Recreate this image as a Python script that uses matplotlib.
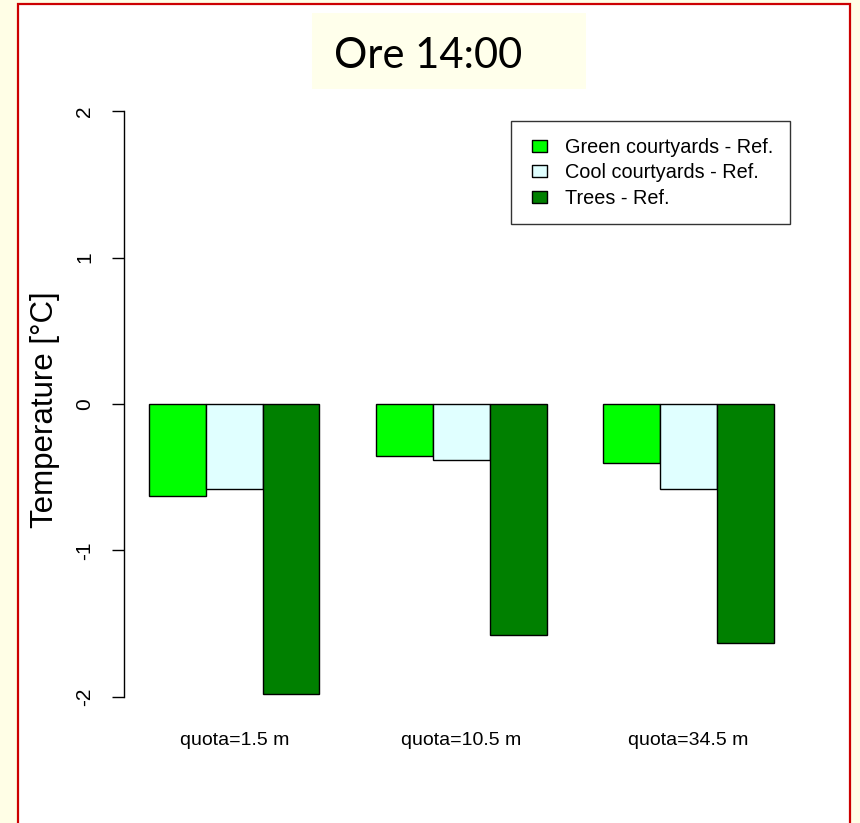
import matplotlib.pyplot as plt
from matplotlib.patches import Rectangle
from matplotlib.lines import Line2D
import numpy as np

plt.rcParams['font.family'] = ['Liberation Sans', 'DejaVu Sans']

groups = ['quota=1.5 m', 'quota=10.5 m', 'quota=34.5 m']
series = ['Green courtyards - Ref.', 'Cool courtyards - Ref.', 'Trees - Ref.']
green_ref = [-0.63, -0.355, -0.40]
cool_ref = [-0.58, -0.38, -0.58]
trees_ref = [-1.98, -1.58, -1.63]
colors = ['#00FF00', '#E0FFFF', '#008000']

W, H = 860, 823
fig = plt.figure(figsize=(W / 100, H / 100), dpi=100)
fig.patch.set_facecolor('#FFFEE6')

# white slide panel with red frame, and the pale title box
fig.add_artist(Rectangle((18 / W, -0.01), (850 - 18) / W, 1 - 4 / H + 0.01,
                         transform=fig.transFigure, facecolor='white',
                         edgecolor='#CC0000', linewidth=1.6, zorder=0))
fig.add_artist(Rectangle((312 / W, 1 - 89 / H), (586 - 312) / W, (89 - 13) / H,
                         transform=fig.transFigure, facecolor='#FFFFEB',
                         edgecolor='none', zorder=1))
fig.text(428 / W, 1 - 56 / H, 'Ore 14:00', ha='center', va='center',
         fontsize=30, family=['Lato', 'DejaVu Sans'], zorder=2)

ax = fig.add_axes([124 / W, 1 - 720.4 / H, (798.8 - 124) / W, (720.4 - 87.6) / H])
ax.set_facecolor('none')

vals = [green_ref, cool_ref, trees_ref]
for i, (v, c) in enumerate(zip(vals, colors)):
    x = 1 + 4 * np.arange(len(groups)) + i
    ax.bar(x, v, width=1, align='edge', color=c, edgecolor='black',
           linewidth=1.0)

ax.set_xlim(0.56, 12.44)
ax.set_ylim(-2.16, 2.16)
for s in ['top', 'right', 'bottom']:
    ax.spines[s].set_visible(False)
ax.spines['left'].set_bounds(-2, 2)
ax.spines['left'].set_linewidth(1.0)

ax.set_yticks([-2, -1, 0, 1, 2])
ax.set_yticklabels(['-2', '-1', '0', '1', '2'], rotation=90, va='center')
ax.tick_params(axis='y', length=9, width=1.0, pad=12.5, labelsize=15)
ax.set_xticks(1 + 4 * np.arange(len(groups)) + 1.5)
ax.set_xticklabels(groups)
ax.tick_params(axis='x', length=0, pad=8, labelsize=14)

fig.text(45 / W, 1 - 410 / H, 'Temperature [°C]', rotation=90,
         ha='center', va='center', fontsize=22.5)

# legend keys as small filled boxes
box = [(-1, -0.8), (1, -0.8), (1, 0.8), (-1, 0.8), (-1, -0.8)]
handles = [Line2D([], [], linestyle='none', marker=box, markersize=10.8,
                  markerfacecolor=c, markeredgecolor='black',
                  markeredgewidth=1.0) for c in colors]
leg = ax.legend(handles, series, loc='upper left',
                bbox_to_anchor=(511 / W, 1 - 121 / H),
                bbox_transform=fig.transFigure, fontsize=14.3, frameon=True,
                fancybox=False, edgecolor='black', handlelength=1.1,
                handletextpad=0.75, borderpad=0.85, labelspacing=0.32,
                borderaxespad=0)
leg.get_frame().set_linewidth(1.0)

fig.savefig('out.png', dpi=100, facecolor=fig.get_facecolor())
